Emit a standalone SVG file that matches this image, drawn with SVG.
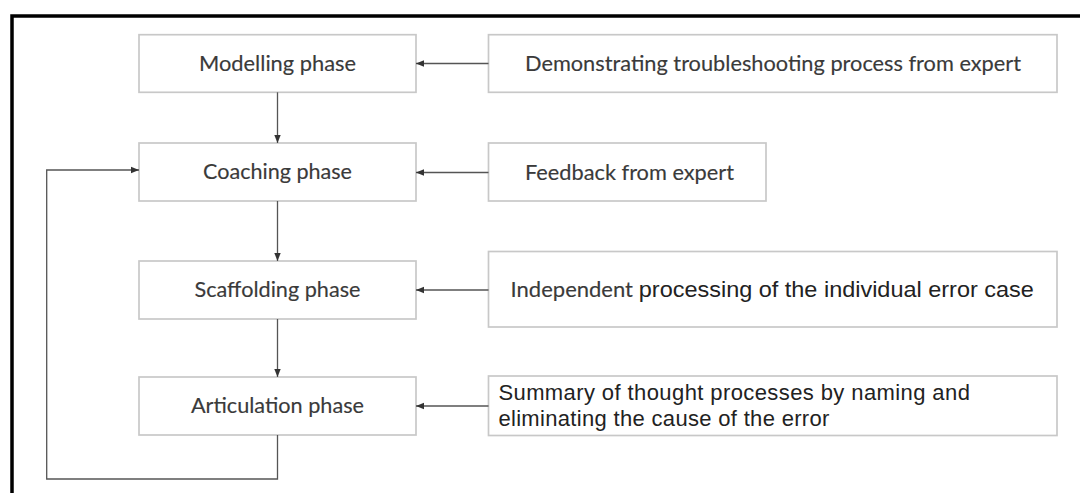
<svg xmlns="http://www.w3.org/2000/svg" width="1080" height="493" viewBox="0 0 1080 493">
  <style>
    .box { fill: #ffffff; stroke: #c8c8c8; stroke-width: 1.7; }
    .cal { font-family: Lato, "Open Sans", "Liberation Sans", sans-serif; font-size: 21px; fill: #3a3a3a; stroke: #3a3a3a; stroke-width: 0.15; }
    .ari { font-family: "Liberation Sans", Arial, sans-serif; font-size: 22px; fill: #222222; }
    .link { fill: none; stroke: #555555; stroke-width: 1.3; }
  </style>
  <defs>
    <marker id="arrow" markerUnits="userSpaceOnUse" markerWidth="9" markerHeight="8" refX="8" refY="4" orient="auto">
      <path d="M0,0.8 L8,4 L0,7.2 Z" fill="#333333"/>
    </marker>
  </defs>

  <rect width="1080" height="493" fill="#ffffff"/>
  <!-- outer frame (open to the right and bottom) -->
  <path d="M12,493 V16 H1080" fill="none" stroke="#000000" stroke-width="3.5"/>

  <!-- phases -->
  <g id="modelling">
    <rect class="box" x="139" y="34.7" width="277" height="57.6"/>
    <text class="cal" x="277.5" y="70.8" text-anchor="middle" textLength="157" lengthAdjust="spacingAndGlyphs">Modelling phase</text>
  </g>
  <g id="coaching">
    <rect class="box" x="139" y="143" width="277" height="58"/>
    <text class="cal" x="277.5" y="179.3" text-anchor="middle" textLength="149" lengthAdjust="spacingAndGlyphs">Coaching phase</text>
  </g>
  <g id="scaffolding">
    <rect class="box" x="139" y="261" width="277" height="58"/>
    <text class="cal" x="277.5" y="297.3" text-anchor="middle" textLength="166" lengthAdjust="spacingAndGlyphs">Scaffolding phase</text>
  </g>
  <g id="articulation">
    <rect class="box" x="139" y="377" width="277" height="58"/>
    <text class="cal" x="277.5" y="413.3" text-anchor="middle" textLength="173" lengthAdjust="spacingAndGlyphs">Articulation phase</text>
  </g>

  <!-- activities -->
  <g id="demonstrating">
    <rect class="box" x="488.5" y="34.7" width="568.5" height="57.6"/>
    <text class="cal" x="525" y="71.3" textLength="496" lengthAdjust="spacingAndGlyphs">Demonstrating troubleshooting process from expert</text>
  </g>
  <g id="feedback">
    <rect class="box" x="488.5" y="143" width="277.5" height="58"/>
    <text class="cal" x="525" y="179.5" textLength="209" lengthAdjust="spacingAndGlyphs">Feedback from expert</text>
  </g>
  <g id="independent">
    <rect class="box" x="488.5" y="251.5" width="568.5" height="75.5"/>
    <text class="cal" x="510.6" y="297" textLength="122.4" lengthAdjust="spacingAndGlyphs">Independent</text>
    <text class="ari" x="638.8" y="297" textLength="395" lengthAdjust="spacingAndGlyphs">processing of the individual error case</text>
  </g>
  <g id="summary">
    <rect class="box" x="488.5" y="376" width="568.5" height="59.5"/>
    <text class="ari" x="498.4" y="400" textLength="471.5" lengthAdjust="spacing">Summary of thought processes by naming and</text>
    <text class="ari" x="498.4" y="426" textLength="331" lengthAdjust="spacing">eliminating the cause of the error</text>
  </g>

  <!-- connectors -->
  <g id="connectors">
    <line class="link" x1="277.5" y1="92.3" x2="277.5" y2="143" marker-end="url(#arrow)"/>
    <line class="link" x1="277.5" y1="201" x2="277.5" y2="261" marker-end="url(#arrow)"/>
    <line class="link" x1="277.5" y1="319" x2="277.5" y2="377" marker-end="url(#arrow)"/>
    <polyline class="link" points="277.5,435 277.5,479 46.7,479 46.7,170 139,170" marker-end="url(#arrow)"/>
    <line class="link" x1="488.5" y1="63.5" x2="416" y2="63.5" marker-end="url(#arrow)"/>
    <line class="link" x1="488.5" y1="172.5" x2="416" y2="172.5" marker-end="url(#arrow)"/>
    <line class="link" x1="488.5" y1="290" x2="416" y2="290" marker-end="url(#arrow)"/>
    <line class="link" x1="488.5" y1="406" x2="416" y2="406" marker-end="url(#arrow)"/>
  </g>
</svg>
